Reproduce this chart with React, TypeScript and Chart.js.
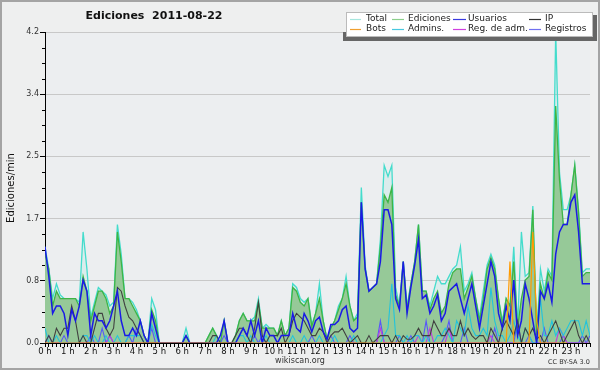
import React, { useEffect, useRef } from 'react';
import { Chart, registerables } from 'chart.js';

Chart.register(...registerables);

// 10-minute slots over the day (0 .. 143)
const slots: number[] = Array.from({ length: 144 }, (_, i) => i);

// Series values (edits per minute), 6 values per hour
const total = [
  1.3, 1.0, 0.6, 0.8, 0.65, 0.6,
  0.6, 0.6, 0.6, 0.55, 1.5, 1.0,
  0.35, 0.55, 0.75, 0.7, 0.65, 0.5,
  0.55, 1.6, 1.2, 0.6, 0.6, 0.55,
  0.45, 0.3, 0.1, 0, 0.6, 0.45,
  0, 0, 0, 0, 0, 0,
  0, 0.2, 0, 0, 0, 0,
  0, 0.1, 0.2, 0.1, 0, 0.3,
  0, 0, 0.1, 0.3, 0.4, 0.3,
  0.3, 0.35, 0.6, 0.2, 0.25, 0.2,
  0.2, 0.1, 0.3, 0.1, 0.2, 0.8,
  0.75, 0.6, 0.55, 0.6, 0.25, 0.4,
  0.8, 0.3, 0.05, 0.2, 0.3, 0.5,
  0.6, 0.9, 0.5, 0.3, 0.4, 2.1,
  1.05, 0.7, 0.75, 0.8, 1.4, 2.4,
  2.25, 2.4, 0.75, 0.5, 1.1, 0.5,
  0.8, 1.1, 1.6, 0.7, 0.7, 0.5,
  0.7, 0.9, 0.8, 0.8, 0.9, 1.0,
  1.05, 1.3, 0.7, 0.8, 0.95, 0.6,
  0.35, 0.7, 1.05, 1.2, 1.05, 0.6,
  0.3, 0.6, 0.5, 1.3, 0.2, 1.5,
  0.9, 0.95, 1.85, 0.1, 1.0, 0.7,
  1.0, 0.9, 4.2, 2.3, 1.8, 1.8,
  2.0, 2.4, 1.8, 0.95, 1.0, 1.0,
];

const ediciones = [
  1.2, 1.0, 0.5, 0.7, 0.6, 0.6,
  0.6, 0.6, 0.6, 0.5, 0.9, 0.7,
  0.3, 0.5, 0.7, 0.7, 0.6, 0.4,
  0.5, 1.5, 1.1, 0.6, 0.6, 0.5,
  0.4, 0.3, 0.1, 0, 0.45, 0.3,
  0, 0, 0, 0, 0, 0,
  0, 0.1, 0, 0, 0, 0,
  0, 0.1, 0.2, 0.1, 0, 0.3,
  0, 0, 0.1, 0.3, 0.4, 0.3,
  0.3, 0.3, 0.55, 0.2, 0.2, 0.2,
  0.2, 0.1, 0.3, 0.1, 0.2, 0.75,
  0.7, 0.55, 0.5, 0.6, 0.22, 0.4,
  0.6, 0.3, 0.05, 0.2, 0.3, 0.45,
  0.6, 0.8, 0.5, 0.3, 0.35, 1.9,
  1.0, 0.7, 0.75, 0.8, 1.3, 2.0,
  1.9, 2.1, 0.65, 0.5, 1.1, 0.45,
  0.8, 1.1, 1.6, 0.7, 0.7, 0.45,
  0.6, 0.7, 0.4, 0.5, 0.8, 0.95,
  1.0, 1.0, 0.6, 0.75, 0.9, 0.6,
  0.3, 0.6, 1.0, 1.15, 1.0, 0.6,
  0.25, 0.6, 0.5, 1.1, 0.2, 0.6,
  0.85, 0.9, 1.8, 0.1, 0.8, 0.6,
  0.95, 0.85, 3.2, 2.2, 1.6, 1.6,
  2.0, 2.4, 1.75, 0.9, 0.95, 0.95,
];

const usuarios = [
  1.3, 0.9, 0.4, 0.5, 0.5, 0.4,
  0.1, 0.45, 0.3, 0.5, 0.85, 0.7,
  0.1, 0.4, 0.3, 0.3, 0.2, 0.3,
  0.5, 0.7, 0.3, 0.1, 0.1, 0.2,
  0.1, 0.3, 0.1, 0, 0.4, 0.2,
  0, 0, 0, 0, 0, 0,
  0, 0.1, 0, 0, 0, 0,
  0, 0, 0, 0, 0.1, 0.3,
  0, 0, 0, 0.1, 0.2, 0.1,
  0.3, 0.1, 0.3, 0, 0.2, 0.1,
  0.1, 0, 0.1, 0.1, 0.1, 0.4,
  0.2, 0.15, 0.4, 0.3, 0.15, 0.3,
  0.35, 0.15, 0.05, 0.25, 0.25, 0.3,
  0.45, 0.5, 0.2, 0.15, 0.2, 1.9,
  1.0, 0.7, 0.75, 0.8, 1.1, 1.8,
  1.8, 1.6, 0.6, 0.45, 1.1, 0.4,
  0.75, 1.05, 1.4, 0.6, 0.65, 0.4,
  0.5, 0.65, 0.3, 0.4, 0.7, 0.75,
  0.8, 0.6, 0.4, 0.6, 0.8, 0.5,
  0.2, 0.5, 0.8, 1.1, 0.9, 0.4,
  0.2, 0.5, 0.3, 0.85, 0.1, 0.3,
  0.8, 0.6, 0.3, 0, 0.7, 0.6,
  0.8, 0.55, 1.2, 1.5, 1.6, 1.6,
  1.9, 2.0, 1.5, 0.8, 0.8, 0.8,
];

const ip = [
  0, 0.1, 0, 0.2, 0.1, 0.2,
  0.2, 0.5, 0.3, 0, 0.1, 0,
  0, 0.2, 0.4, 0.4, 0.2, 0.1,
  0.2, 0.75, 0.7, 0.5, 0.35, 0.3,
  0.2, 0.1, 0, 0, 0, 0,
  0, 0, 0, 0, 0, 0,
  0, 0, 0, 0, 0, 0,
  0, 0, 0.1, 0.1, 0, 0,
  0, 0, 0.1, 0.2, 0.2, 0.1,
  0, 0.2, 0.55, 0.1, 0, 0.1,
  0.1, 0.1, 0.2, 0, 0.1, 0.3,
  0.4, 0.35, 0.3, 0.2, 0.1, 0.1,
  0.2, 0.15, 0, 0.1, 0.15, 0.15,
  0.2, 0.1, 0, 0.05, 0.1, 0,
  0, 0.1, 0, 0.05, 0.1, 0.1,
  0.1, 0, 0.1, 0, 0.1, 0.05,
  0.05, 0.1, 0.2, 0.1, 0.1, 0.1,
  0.3, 0.2, 0.1, 0.1, 0.2, 0.1,
  0.1, 0.3, 0.1, 0.2, 0.1, 0.05,
  0.1, 0.1, 0, 0.2, 0.1, 0,
  0.2, 0.3, 0.2, 0.1, 0.3, 0,
  0.2, 0.1, 0.2, 0.05, 0.1, 0,
  0.1, 0.2, 0.3, 0.15, 0, 0.1,
  0.2, 0.3, 0.1, 0, 0.1, 0,
];

const bots = [
  0, 0, 0, 0, 0, 0,  0, 0, 0, 0, 0, 0,  0, 0, 0, 0, 0, 0,  0, 0, 0, 0, 0, 0,
  0, 0, 0, 0, 0, 0,  0, 0, 0, 0, 0, 0,  0, 0, 0, 0, 0, 0,  0, 0, 0, 0, 0, 0,
  0, 0, 0, 0, 0, 0,  0, 0, 0, 0, 0, 0,  0, 0, 0, 0, 0, 0,  0, 0, 0, 0, 0, 0,
  0, 0, 0, 0, 0, 0,  0, 0, 0, 0, 0, 0,  0, 0, 0, 0, 0, 0,  0, 0, 0, 0, 0, 0,
  0, 0, 0, 0, 0, 0,  0, 0, 0, 0, 0, 0,  0, 0, 0, 0, 0, 0,  0, 0, 0, 0, 0, 0,
  0, 0, 1.1, 0, 0, 0,  0, 0, 1.5, 0.3, 0, 0,  0, 0, 0, 0, 0, 0,
];

const admins = [
  0.2, 0, 0, 0.1, 0, 0,
  0, 0, 0, 0, 0.1, 0.1,
  0, 0.1, 0, 0, 0.1, 0,
  0, 0.1, 0, 0, 0.1, 0.1,
  0.1, 0.1, 0, 0, 0.25, 0.1,
  0, 0, 0, 0, 0, 0,
  0, 0, 0, 0, 0, 0,
  0, 0, 0, 0.1, 0, 0,
  0, 0, 0, 0.1, 0.1, 0,
  0.1, 0, 0, 0, 0.1, 0,
  0, 0, 0, 0, 0, 0.1,
  0, 0, 0.1, 0, 0, 0,
  0.1, 0, 0, 0, 0.1, 0,
  0, 0, 0, 0.1, 0, 0,
  0, 0, 0, 0, 0, 0.1,
  0.2, 0.8, 0.1, 0.1, 0, 0.1,
  0, 0.1, 0.1, 0, 0.1, 0,
  0, 0.1, 0.1, 0.2, 0.1, 0,
  0.3, 0.2, 0.1, 0.5, 0.2, 0.1,
  0.1, 0.2, 0.1, 0.75, 0.3, 0.1,
  0.1, 0, 0.1, 0.3, 0.1, 0,
  0.2, 0.1, 0, 0, 0.6, 0.1,
  0.1, 0.3, 0.1, 0.2, 0.1, 0.2,
  0.3, 0.3, 0.3, 0.1, 0.3, 0.1,
];

const regAdm = [
  0, 0, 0, 0, 0, 0,  0, 0, 0, 0, 0, 0,  0, 0, 0, 0, 0, 0.1,  0, 0, 0, 0, 0, 0,
  0, 0, 0, 0, 0, 0,  0, 0, 0, 0, 0, 0,  0, 0, 0, 0, 0, 0,  0, 0, 0, 0, 0, 0,
  0, 0, 0, 0, 0, 0,  0, 0, 0, 0, 0, 0,  0, 0, 0, 0, 0, 0,  0, 0, 0, 0, 0, 0,
  0, 0, 0, 0, 0, 0,  0, 0, 0, 0, 0, 0,  0, 0, 0, 0, 0.2, 0,  0, 0, 0, 0, 0, 0,
  0, 0, 0.1, 0, 0, 0.2,  0, 0, 0, 0, 0.2, 0,  0, 0, 0, 0, 0, 0,  0, 0, 0, 0.1, 0, 0,
  0, 0, 0, 0, 0, 0,  0, 0, 0, 0, 0, 0,  0, 0, 0, 0.2, 0.1, 0,  0, 0, 0, 0, 0, 0,
];

const registros = [
  0, 0.1, 0, 0, 0, 0.1,  0, 0, 0, 0, 0, 0,  0.1, 0, 0, 0.2, 0, 0.1,  0, 0, 0, 0, 0.1, 0,
  0.2, 0.1, 0, 0, 0.2, 0,  0, 0, 0, 0, 0, 0,  0, 0, 0, 0, 0, 0,  0, 0, 0, 0, 0, 0.1,
  0, 0, 0, 0, 0, 0,  0, 0.1, 0, 0.1, 0, 0,  0, 0, 0, 0, 0, 0,  0, 0, 0, 0, 0.1, 0,
  0, 0, 0, 0.1, 0, 0,  0, 0, 0.1, 0, 0, 0,  0, 0, 0, 0, 0.3, 0,  0, 0, 0, 0.1, 0, 0,
  0.1, 0, 0, 0, 0.3, 0,  0, 0, 0, 0.1, 0.3, 0,  0, 0, 0.2, 0, 0, 0,  0, 0, 0, 0, 0.2, 0,
  0, 0, 0, 0, 0.3, 0,  0, 0.1, 0, 0, 0, 0.2,  0, 0, 0, 0, 0.1, 0,  0, 0, 0, 0.1, 0, 0.1,
];

const yTickStep = 0.21;
const yMax = 4.2;

const legendItems = [
  { label: 'Total', color: '#a6e6de', col: 0, row: 0 },
  { label: 'Ediciones', color: '#8ccf8c', col: 1, row: 0 },
  { label: 'Usuarios', color: '#3a3ae0', col: 2, row: 0 },
  { label: 'IP', color: '#333333', col: 3, row: 0 },
  { label: 'Bots', color: '#f0a030', col: 0, row: 1 },
  { label: 'Admins.', color: '#48c8e0', col: 1, row: 1 },
  { label: 'Reg. de adm.', color: '#d040e0', col: 2, row: 1 },
  { label: 'Registros', color: '#7070f0', col: 3, row: 1 },
];

const FONT = '"DejaVu Sans", Verdana, sans-serif';

const decorPlugin = {
  id: 'decor',
  beforeDraw(chart: any) {
    const { ctx, chartArea } = chart;
    ctx.save();
    ctx.fillStyle = '#eeefef';
    ctx.fillRect(0, 0, chart.width, chart.height);
    ctx.fillStyle = '#eceef0';
    ctx.fillRect(chartArea.left, chartArea.top, chartArea.right - chartArea.left, chartArea.bottom - chartArea.top);
    ctx.restore();
  },
  afterDraw(chart: any) {
    const { ctx, chartArea } = chart;
    const yScale = chart.scales.y;
    ctx.save();

    // short minor ticks on the y axis
    ctx.strokeStyle = '#000';
    ctx.lineWidth = 1;
    (yScale.ticks || []).forEach((t: any, i: number) => {
      if (i % 4 === 0) return;
      const py = Math.round(yScale.getPixelForValue(t.value)) + 0.5;
      ctx.beginPath();
      ctx.moveTo(chartArea.left - 3, py);
      ctx.lineTo(chartArea.left, py);
      ctx.stroke();
    });

    // outer border
    ctx.strokeStyle = '#a4a4a4';
    ctx.lineWidth = 2;
    ctx.strokeRect(1, 1, chart.width - 2, chart.height - 2);

    // title
    ctx.fillStyle = '#111';
    ctx.font = `bold 11px ${FONT}`;
    ctx.textAlign = 'center';
    ctx.textBaseline = 'middle';
    ctx.fillText('Ediciones  2011-08-22', 154, 16);

    // y title
    ctx.save();
    ctx.translate(11, 188);
    ctx.rotate(-Math.PI / 2);
    ctx.font = `10px ${FONT}`;
    ctx.fillStyle = '#111';
    ctx.fillText('Ediciones/min', 0, 0);
    ctx.restore();

    // footer
    ctx.font = `8px ${FONT}`;
    ctx.fillStyle = '#333';
    ctx.fillText('wikiscan.org', 300, 361);
    ctx.font = `6.5px ${FONT}`;
    ctx.fillText('CC BY-SA 3.0', 569, 362);

    // legend box with shadow
    ctx.fillStyle = '#666';
    ctx.fillRect(343, 32, 254, 9);
    ctx.fillRect(590, 15, 7, 26);
    ctx.fillStyle = '#ffffff';
    ctx.fillRect(346, 12, 247, 25);
    ctx.strokeStyle = '#bbbbbb';
    ctx.lineWidth = 1;
    ctx.strokeRect(346.5, 12.5, 246, 24);

    const cols = [
      { l1: 350, l2: 361, t: 366 },
      { l1: 392, l2: 404, t: 408 },
      { l1: 453, l2: 466, t: 468 },
      { l1: 529, l2: 541, t: 545 },
    ];
    const rows = [19, 29];
    ctx.font = `9px ${FONT}`;
    ctx.textAlign = 'left';
    ctx.textBaseline = 'middle';
    legendItems.forEach((it) => {
      const c = cols[it.col];
      const y = rows[it.row];
      ctx.strokeStyle = it.color;
      ctx.lineWidth = 1.2;
      ctx.beginPath();
      ctx.moveTo(c.l1, y + 0.5);
      ctx.lineTo(c.l2, y + 0.5);
      ctx.stroke();
      ctx.fillStyle = '#222';
      ctx.fillText(it.label, c.t, y);
    });
    ctx.restore();
  },
};

export default function App() {
  const ref = useRef<HTMLCanvasElement | null>(null);

  useEffect(() => {
    if (!ref.current) return;
    const line = (label: string, data: number[], color: string, width: number, order: number, extra: any = {}) => ({
      label,
      data,
      borderColor: color,
      borderWidth: width,
      pointRadius: 0,
      tension: 0,
      fill: false,
      order,
      ...extra,
    });

    const chart = new Chart(ref.current, {
      type: 'line',
      data: {
        labels: slots,
        datasets: [
          line('Total', total, '#44dccc', 1.3, 9, { fill: 'origin', backgroundColor: 'rgba(64,224,208,0.10)' }),
          line('Ediciones', ediciones, '#3db545', 1.3, 8, { fill: 'origin', backgroundColor: '#96c998' }),
          line('Registros', registros, '#5858f8', 1.1, 6),
          line('Reg. de adm.', regAdm, '#c03ce0', 1.1, 5),
          line('Admins.', admins, '#22c4dc', 1.1, 4),
          line('IP', ip, '#404040', 1.1, 3),
          line('Usuarios', usuarios, '#1a1ae6', 1.5, 2),
          line('Bots', bots, '#ff9a00', 1.2, 1),
        ],
      },
      options: {
        responsive: false,
        maintainAspectRatio: false,
        animation: false,
        layout: { padding: { top: 32, right: 10, left: 0, bottom: 0 } },
        plugins: {
          legend: { display: false },
          title: { display: false },
          tooltip: { enabled: false },
        },
        scales: {
          x: {
            type: 'linear',
            min: 0,
            max: 143,
            afterFit: (s: any) => { s.height = 27; },
            border: { color: '#000', width: 1 },
            grid: { drawOnChartArea: false, drawTicks: true, tickLength: 4, tickColor: '#000' },
            ticks: {
              stepSize: 1,
              autoSkip: false,
              maxRotation: 0,
              minRotation: 0,
              padding: 0,
              color: '#111',
              font: { family: FONT, size: 8.5 },
              callback: (v: any) => (Number(v) % 6 === 0 ? `${Number(v) / 6} h` : ''),
            },
          },
          y: {
            type: 'linear',
            min: 0,
            max: yMax,
            afterFit: (s: any) => { s.width = 45; },
            border: { color: '#000', width: 1 },
            grid: {
              drawTicks: true,
              tickLength: 5,
              tickColor: (c: any) => (c.index % 4 === 0 ? '#000' : 'rgba(0,0,0,0)'),
              color: (c: any) => (c.index % 4 === 0 && c.index > 0 ? '#c8c8c8' : 'rgba(0,0,0,0)'),
            },
            ticks: {
              stepSize: yTickStep,
              autoSkip: false,
              padding: 1,
              color: '#333',
              font: { family: FONT, size: 8 },
              callback: (v: any, i: number) => (i % 4 === 0 ? Number(v).toFixed(1) : ''),
            },
          },
        },
      },
      plugins: [decorPlugin],
    } as any);
    return () => chart.destroy();
  }, []);

  return (
    <div style={{ position: 'fixed', left: 0, top: 0, width: 600, height: 370 }}>
      <canvas ref={ref} width={600} height={370} style={{ display: 'block' }} />
    </div>
  );
}
